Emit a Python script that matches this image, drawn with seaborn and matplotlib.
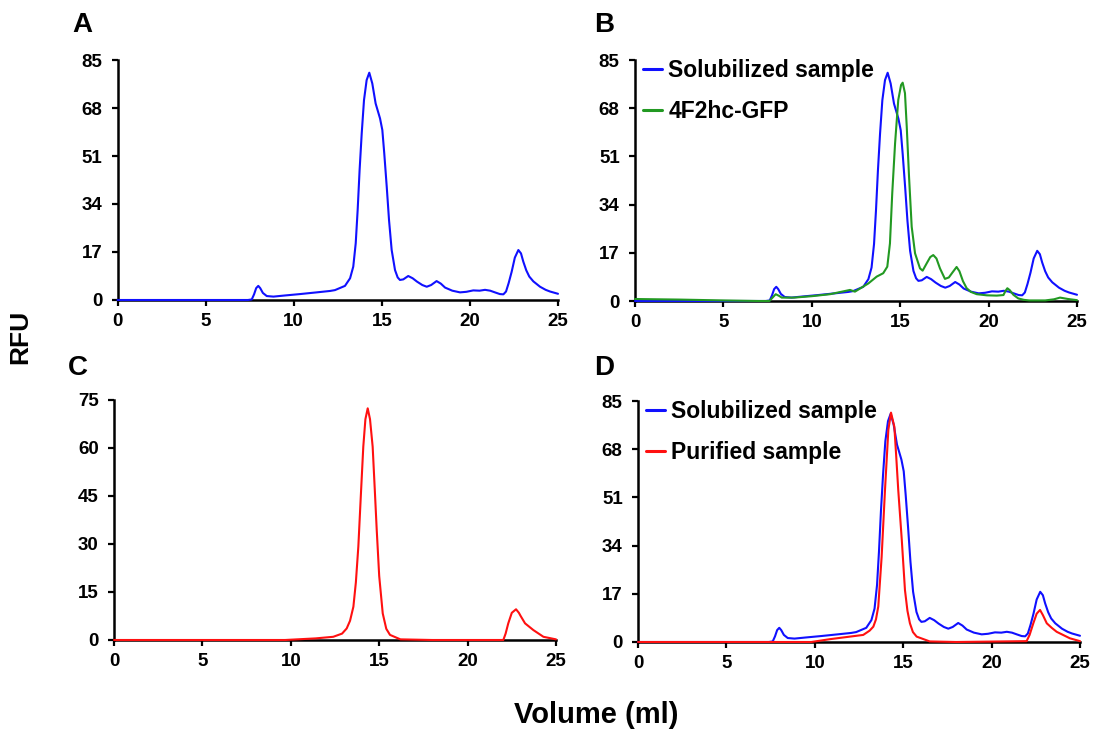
import numpy as np
import pandas as pd
import matplotlib
matplotlib.use("Agg")
import matplotlib.pyplot as plt
import seaborn as sns

# ---------------- data ----------------
# Solubilized sample (blue), used in panels A, B and D
sol_x = [0, 2, 4, 6, 7.4, 7.62, 7.75, 7.87, 7.99, 8.1, 8.25, 8.47, 8.85, 9.5, 10.36, 11.3,
         12.06, 12.34, 12.91, 13.2, 13.38, 13.52, 13.63, 13.74, 13.86, 13.99, 14.14,
         14.29, 14.46, 14.65, 14.9, 15.03, 15.14, 15.28, 15.41, 15.56, 15.75, 15.9,
         16.03, 16.22, 16.5, 16.75, 17.0, 17.3, 17.55, 17.8, 18.11, 18.35, 18.59, 19.0,
         19.44, 19.8, 20.19, 20.55, 20.86, 21.15, 21.42, 21.7, 21.9, 22.05, 22.2, 22.37,
         22.55, 22.75, 22.9, 23.03, 23.2, 23.37, 23.6, 23.98, 24.3, 24.55, 25.0]
sol_y = [0, 0, 0, 0, 0, 0.2, 2.0, 4.2, 5.0, 4.2, 2.5, 1.4, 1.2, 1.6, 2.1, 2.7,
         3.2, 3.5, 5.0, 7.7, 11.8, 20.1, 31.9, 46.0, 59.0, 70.8, 77.9,
         80.5, 76.7, 69.6, 64.3, 60.2, 51.9, 40.1, 28.3, 17.7, 10.6, 8.0,
         7.1, 7.3, 8.5, 7.7, 6.5, 5.3, 4.7, 5.3, 6.7, 5.8, 4.4, 3.3,
         2.7, 2.9, 3.4, 3.3, 3.6, 3.3, 2.7, 2.1, 2.0, 3.0, 6.0, 10.0,
         15.0, 17.7, 16.5, 13.6, 10.5, 8.3, 6.6, 4.7, 3.6, 3.0, 2.2]

# 4F2hc-GFP (green), panel B
gfp_x = [0, 2.5, 5, 7.0, 7.6, 7.75, 7.96, 8.15, 8.3, 9.0, 10.0, 11.03, 12.16, 12.44,
         13.2, 13.67, 14.04, 14.27, 14.42, 14.55, 14.71, 14.89, 15.05, 15.14, 15.27,
         15.37, 15.5, 15.65, 15.84, 16.12, 16.27, 16.5, 16.7, 16.87, 17.05, 17.25,
         17.53, 17.75, 17.95, 18.19, 18.35, 18.55, 18.76, 19.0, 19.33, 19.9, 20.46,
         20.84, 20.95, 21.06, 21.2, 21.4, 21.68, 22.0, 22.3, 23.2, 23.7, 24.04, 24.5,
         25.0]
gfp_y = [0.7, 0.5, 0.2, 0.0, 0.0, 1.0, 2.4, 1.8, 1.2, 1.2, 1.7, 2.4, 3.9, 3.3,
         6.2, 8.6, 9.8, 12.1, 20.3, 38.0, 55.6, 70.9, 76.2, 77.0, 73.3,
         61.5, 43.8, 26.2, 16.8, 11.5, 10.7, 13.3, 15.5, 16.2, 15.0, 11.5,
         7.8, 8.3, 10.0, 12.0, 10.5, 7.0, 4.5, 3.2, 2.4, 2.0, 1.9,
         2.1, 3.5, 4.5, 3.8, 2.2, 0.9, 0.4, 0.2, 0.2, 0.6, 1.2, 0.7,
         0.3]

# Purified sample (red), panel C (0-75 scale)
purC_x = [0, 5, 9.67, 11.4, 12.4, 12.9, 13.16, 13.35, 13.54, 13.68, 13.82, 13.96, 14.1,
          14.22, 14.35, 14.48, 14.63, 14.75, 14.86, 15.0, 15.2, 15.4, 15.61, 16.2, 18,
          22.02, 22.15, 22.3, 22.5, 22.74, 22.9, 23.0, 23.25, 23.72, 24.29, 25.0]
purC_y = [0, 0, 0, 0.5, 1.0, 2.0, 3.6, 6.0, 10.4, 18.0, 29.2, 45.0, 60.4,
          69.0, 72.4, 69.0, 60.4, 47.0, 34.4, 20.0, 8.3, 3.5, 1.6, 0.2, 0,
          0, 2.0, 5.2, 8.5, 9.6, 8.5, 7.5, 5.2, 3.1, 1.0, 0.2]

# Purified sample (red), panel D (0-85 scale)
purD_x = [0, 5, 9.8, 10.86, 12.74, 13.1, 13.31, 13.46, 13.59, 13.78, 13.97, 14.16,
          14.31, 14.5, 14.6, 14.72, 14.92, 15.1, 15.24, 15.38, 15.55, 15.76, 16.5, 18,
          21.98, 22.15, 22.36, 22.55, 22.74, 22.9, 23.12, 23.4, 23.68, 24.43, 25.0]
purD_y = [0, 0, 0, 1.0, 2.5, 4.0, 5.4, 8.0, 12.5, 30.0, 53.6, 74.8,
          80.9, 75.9, 66.0, 53.6, 36.0, 18.3, 11.0, 6.6, 3.5, 1.9, 0.2, 0,
          0.3, 2.5, 6.6, 10.0, 11.3, 9.5, 6.6, 5.0, 3.6, 1.3, 0.3]

x_ticks = [0, 5, 10, 15, 20, 25]
y_ticks_85 = [0, 17, 34, 51, 68, 85]
y_ticks_75 = [0, 15, 30, 45, 60, 75]

panel_letters = ["A", "B", "C", "D"]
label_sol = "Solubilized sample"
label_gfp = "4F2hc-GFP"
label_pur = "Purified sample"

BLUE = "#1010ff"
GREEN = "#229922"
RED = "#ff1010"

# ---------------- style ----------------
sns.set_style("ticks")
plt.rcParams["font.family"] = ["Liberation Sans", "DejaVu Sans"]
plt.rcParams["font.weight"] = "bold"
plt.rcParams["text.color"] = "black"
plt.rcParams["axes.labelcolor"] = "black"
plt.rcParams["xtick.color"] = "black"
plt.rcParams["ytick.color"] = "black"

fig = plt.figure(figsize=(10.93, 7.32), dpi=100)
W, H = 1093, 732


def add_ax(x0, x1, y_top, y_bottom):
    return fig.add_axes([x0 / W, 1 - y_bottom / H, (x1 - x0) / W, (y_bottom - y_top) / H])


axA = add_ax(117.5, 558, 60, 300)
axB = add_ax(635, 1077, 60, 301)
axC = add_ax(114, 556, 400, 640)
axD = add_ax(638, 1080, 401, 642)

dfs = {
    "sol": pd.DataFrame({"x": sol_x, "y": sol_y}),
    "gfp": pd.DataFrame({"x": gfp_x, "y": gfp_y}),
    "purC": pd.DataFrame({"x": purC_x, "y": purC_y}),
    "purD": pd.DataFrame({"x": purD_x, "y": purD_y}),
}


def draw(ax, key, color, label=None):
    sns.lineplot(data=dfs[key], x="x", y="y", ax=ax, color=color, lw=1.5,
                 estimator=None, sort=False, label=label, clip_on=False, zorder=3)
    ax.lines[-1].set_solid_joinstyle("round")


draw(axA, "sol", BLUE)
draw(axB, "sol", BLUE, label_sol)
draw(axB, "gfp", GREEN, label_gfp)
draw(axC, "purC", RED)
draw(axD, "sol", BLUE, label_sol)
draw(axD, "purD", RED, label_pur)

for ax, yt in [(axA, y_ticks_85), (axB, y_ticks_85), (axC, y_ticks_75), (axD, y_ticks_85)]:
    ax.set_xlim(0, 25)
    ax.set_ylim(yt[0], yt[-1])
    ax.set_xticks(x_ticks)
    ax.set_yticks(yt)
    ax.set_xlabel("")
    ax.set_ylabel("")
    sns.despine(ax=ax)
    for s in ["left", "bottom"]:
        ax.spines[s].set_linewidth(1.8)
        ax.spines[s].set_color("black")
    ax.tick_params(axis="both", direction="out", length=4, width=1.6, color="black",
                   labelsize=13.5, labelcolor="black")
    ax.tick_params(axis="y", pad=7)
    ax.tick_params(axis="x", pad=5)
    for lab in ax.get_xticklabels() + ax.get_yticklabels():
        lab.set_fontweight("bold")

for ax in (axB, axD):
    leg = ax.legend(loc="upper left", bbox_to_anchor=(0.018, 1.005), frameon=False,
                    handlelength=0.85, handletextpad=0.25, labelspacing=0.8,
                    borderaxespad=0, borderpad=0,
                    prop={"size": 16.5, "weight": "bold"})
    for line in leg.get_lines():
        line.set_linewidth(2.2)
    for t in leg.get_texts():
        t.set_color("black")

# panel letters
for letter, (px, py) in zip(panel_letters, [(82, 25), (604, 25), (78, 368), (604, 368)]):
    fig.text(px / W, 1 - py / H, letter, ha="center", va="center",
             fontsize=20, fontweight="bold", color="black")

fig.text(20 / W, 1 - 337 / H, "RFU", rotation=90, ha="center", va="center",
         fontsize=19, fontweight="bold", color="black")
fig.text(596 / W, 1 - 715 / H, "Volume (ml)", ha="center", va="center",
         fontsize=21, fontweight="bold", color="black")

fig.savefig("out.png", dpi=100)
